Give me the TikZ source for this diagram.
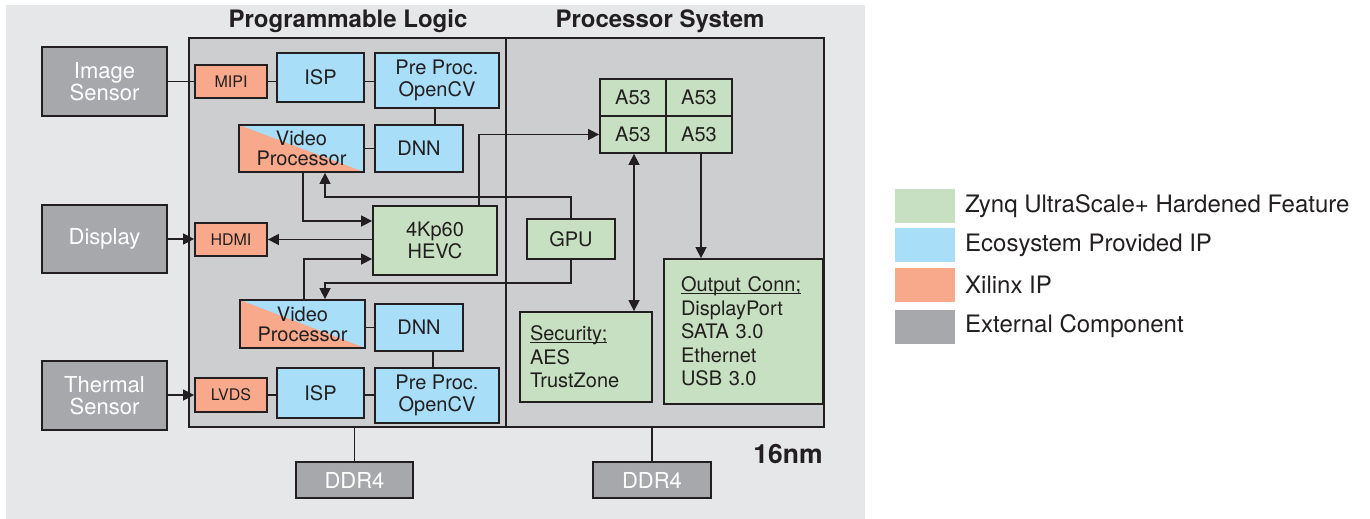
\documentclass[tikz,border=0pt]{standalone}
\usepackage{fontspec}
\setmainfont{TeX Gyre Heros}
\usetikzlibrary{arrows.meta,calc}
\definecolor{bgc}{HTML}{E6E7E9}
\definecolor{chip}{HTML}{CDCED0}
\definecolor{ext}{HTML}{A7A8AB}
\definecolor{grn}{HTML}{C7E0C1}
\definecolor{blu}{HTML}{A8DEF8}
\definecolor{sal}{HTML}{F8A98B}
\definecolor{ink}{HTML}{231F20}
\newcommand\ulhead[1]{\underline{\raisebox{0pt}[\height][0pt]{#1}}}
\begin{document}
\begin{tikzpicture}[x=1pt,y=-1pt,
 sz/.style 2 args={minimum width=#1pt, minimum height=#2pt},
 blk/.style={draw=ink, line width=1.8pt, inner sep=0pt, align=center, text=ink, font=\fontsize{20}{22}\selectfont},
 extb/.style={blk, fill=ext, text=white, font=\fontsize{22}{22}\selectfont},
 ipb/.style={blk, fill=sal, font=\fontsize{16}{18}\selectfont},
 ecob/.style={blk, fill=blu},
 hardb/.style={blk, fill=grn},
 vpb/.style={blk, fill=blu, font=\fontsize{20}{20}\selectfont,
   path picture={\fill[sal] (path picture bounding box.north west) -- (path picture bounding box.south east) -- (path picture bounding box.south west) -- cycle;}},
 chipb/.style={draw=ink, line width=1.5pt, fill=chip, inner sep=0pt},
 title/.style={text=ink, font=\bfseries\fontsize{24}{24}\selectfont, inner sep=0pt},
 wire/.style={draw=ink, line width=1.5pt},
 arr/.style={wire, -{Triangle[length=11pt,width=11pt]}},
 arrb/.style={wire, {Triangle[length=11pt,width=11pt]}-{Triangle[length=11pt,width=11pt]}},
 lgbox/.style={inner sep=0pt, minimum width=60pt, minimum height=34pt},
 lgtxt/.style={anchor=west, inner sep=0pt, text=ink, font=\fontsize{24}{24}\selectfont}
]
\useasboundingbox (0,0) rectangle (1370,519);
\fill[white] (0,0) rectangle (1370,519);
\fill[bgc] (6,5) rectangle (865,519);

% chip regions
\node[chipb, sz={317}{389}] (pl) at (347.5,232.5) {};
\node[chipb, sz={318}{389}] (ps) at (665,232.5) {};
\node[title] (plt) at (348,21) {Programmable Logic};
\node[title] (pst) at (660,21) {Processor System};
\node[title, font=\bfseries\fontsize{26.5}{26.5}\selectfont] (nm) at (788,454) {16nm};

% external
\node[extb, sz={125}{69}] (img) at (104.5,81.5) {Image\\Sensor};
\node[extb, sz={125}{68}] (disp) at (104.5,239) {Display};
\node[extb, sz={125}{69}] (therm) at (104.5,395.5) {Thermal\\Sensor};
\node[extb, sz={117}{36}] (ddrL) at (354.5,480) {DDR4};
\node[extb, sz={118}{36}] (ddrR) at (652,480) {DDR4};

% PL blocks
\node[ipb, sz={72}{33}] (mipi) at (231,81.5) {MIPI};
\node[ecob, sz={87}{49}] (isp1) at (320.5,77.5) {ISP};
\node[ecob, sz={124}{55}] (pre1) at (437,80.5) {Pre Proc.\\OpenCV};
\node[vpb, sz={125}{47}] (vp1) at (301.5,148.5) {Video\\Processor};
\node[ecob, sz={88}{47}] (dnn1) at (419,148.5) {DNN};
\node[hardb, sz={124}{69}] (hevc) at (435,240.5) {4Kp60\\HEVC};
\node[ipb, sz={72}{33}] (hdmi) at (231,239.5) {HDMI};
\node[vpb, sz={125}{48}] (vp2) at (302.5,324) {Video\\Processor};
\node[ecob, sz={88}{47}] (dnn2) at (419,327.5) {DNN};
\node[ipb, sz={72}{34}] (lvds) at (231,395) {LVDS};
\node[ecob, sz={87}{50}] (isp2) at (320.5,393) {ISP};
\node[ecob, sz={124}{55}] (pre2) at (437,395.5) {Pre Proc.\\OpenCV};

% PS blocks
\node[hardb, sz={66}{37}] (a11) at (633,97.5) {A53};
\node[hardb, sz={66}{37}] (a12) at (699,97.5) {A53};
\node[hardb, sz={66}{37}] (a21) at (633,134.5) {A53};
\node[hardb, sz={66}{37}] (a22) at (699,134.5) {A53};
\node[hardb, sz={88}{40}] (gpu) at (571,239) {GPU};
\node[hardb, sz={132}{90}, align=left, text width=112pt, inner xsep=10pt, font=\fontsize{20}{23.5}\selectfont] (sec) at (586,357) {\ulhead{Security;}\\AES\\TrustZone};
\node[hardb, sz={159}{145}, align=left, text width=125pt, inner xsep=17pt, font=\fontsize{20}{23.5}\selectfont] (out) at (743.5,331.5) {\ulhead{Output Conn;}\\DisplayPort\\SATA 3.0\\Ethernet\\USB 3.0};

% turning points
\coordinate (j1) at (325,197);
\coordinate (j2) at (325,283);

% connectors
\draw[wire] (img.east) -- (mipi.west);
\draw[wire] (mipi.east) -- (mipi.east -| isp1.west);
\draw[wire] (mipi.east -| isp1.east) -- (mipi.east -| pre1.west);
\draw[wire] ([xshift=-2pt]pre1.south) -- ([xshift=-2pt]pre1.south |- dnn1.north);
\draw[wire] (vp1.east) -- (dnn1.west);
\draw[arr] ([xshift=1.5pt]vp1.south) |- ([yshift=19.5pt]hevc.west);
\draw[arr] (gpu.north) |- (j1) -- (j1 |- vp1.south);
\draw[arr] ([xshift=44pt]hevc.north) |- (a21.west);
\draw[arr] (hevc.west |- hdmi.east) -- (hdmi.east);
\draw[arr] (disp.east) -- (disp.east -| hdmi.west);
\draw[arr] ([xshift=1.5pt]vp2.north) |- ([yshift=-18.5pt]hevc.west);
\draw[arr] (gpu.south) |- (j2) -- (j2 |- vp2.north);
\draw[wire] (vp2.east |- dnn2.west) -- (dnn2.west);
\draw[wire] ([xshift=14pt]dnn2.south) -- ([xshift=14pt]dnn2.south |- pre2.north);
\draw[arr] (therm.east |- lvds.west) -- (lvds.west);
\draw[wire] (lvds.east) -- (lvds.east -| isp2.west);
\draw[wire] (lvds.east -| isp2.east) -- (lvds.east -| pre2.west);
\draw[wire] (pl.south -| ddrL.north) -- (ddrL.north);
\draw[wire] (ps.south -| ddrR.north) -- (ddrR.north);
\draw[arrb] ([xshift=1pt]a21.south) -- ([xshift=1pt]a21.south |- sec.north);
\draw[arr] ([xshift=2pt]a22.south) -- ([xshift=2pt]a22.south |- out.north);

% legend
\node[lgbox, fill=grn] (lg1) at (925,206) {};
\node[lgbox, fill=blu] (lg2) at (925,245) {};
\node[lgbox, fill=sal] (lg3) at (925,285) {};
\node[lgbox, fill=ext] (lg4) at (925,326.5) {};
\node[lgtxt] (lt1) at (965,206) {Zynq UltraScale+ Hardened Feature};
\node[lgtxt] (lt2) at (965,245) {Ecosystem Provided IP};
\node[lgtxt] (lt3) at (965,285) {Xilinx IP};
\node[lgtxt] (lt4) at (965,326.5) {External Component};
\end{tikzpicture}
\end{document}
